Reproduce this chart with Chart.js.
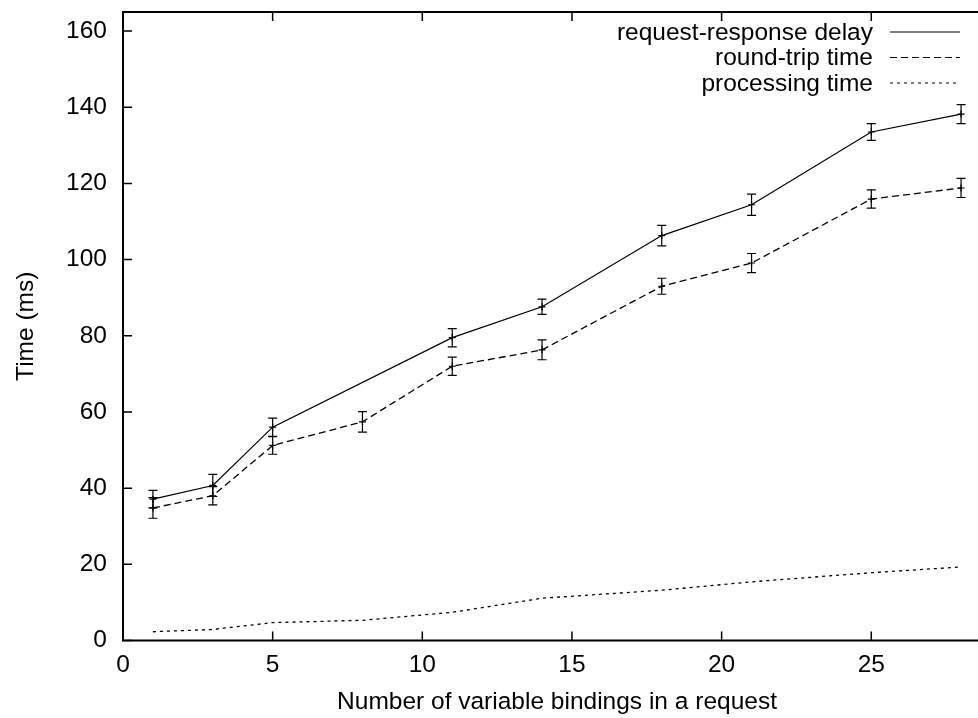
<!DOCTYPE html>
<html>
<head>
<meta charset="utf-8">
<script src="https://cdn.jsdelivr.net/npm/chart.js@4.4.1/dist/chart.umd.min.js"></script>
<style>
  html, body { margin: 0; padding: 0; background: #fff; overflow: hidden; }
  canvas { display: block; }
</style>
</head>
<body>
<canvas id="chart" width="1000" height="718"></canvas>
<script>
// ---- data ----
const bindings = [1, 3, 5, 8, 11, 14, 18, 21, 25, 28];

// request-response delay (no sample at 8 bindings)
const delayMean = [37.1, 40.7, 56.0, null, 79.5, 87.6, 106.3, 114.4, 133.5, 138.2];
const delayErr  = [2.3, 2.9, 2.4, null, 2.4, 2.0, 2.7, 2.8, 2.2, 2.5];

// round-trip time
const rttMean = [34.8, 38.0, 51.2, 57.4, 72.0, 76.3, 93.0, 99.1, 115.9, 118.8];
const rttErr  = [2.7, 2.4, 2.3, 2.7, 2.4, 2.6, 2.1, 2.5, 2.4, 2.5];

// processing time
const procMean = [2.3, 2.9, 4.7, 5.3, 7.4, 11.1, 13.2, 15.4, 17.8, 19.3];

const seriesLabels = ['request-response delay', 'round-trip time', 'processing time'];
const xTicks = [0, 5, 10, 15, 20, 25];
const yTicks = [0, 20, 40, 60, 80, 100, 120, 140, 160];

const FONT = { family: "'Liberation Sans', Arial, Helvetica, sans-serif", size: 24.5 };
const INK = '#000';

function toPoints(ys) {
  return bindings.map((x, i) => ({ x: x, y: ys[i] }));
}

// frame, inward mirrored ticks, error bars and gnuplot-style key
const gnuplotLook = {
  id: 'gnuplotLook',
  afterDatasetsDraw(chart) {
    const { ctx, scales: { x, y } } = chart;
    ctx.save();
    ctx.strokeStyle = INK;
    ctx.lineWidth = 1.2;
    ctx.setLineDash([]);
    chart.data.datasets.forEach(ds => {
      if (!ds.errors) return;
      ds.data.forEach((p, i) => {
        const e = ds.errors[i];
        if (p.y == null || e == null) return;
        const px = x.getPixelForValue(p.x);
        const top = y.getPixelForValue(p.y + e);
        const bot = y.getPixelForValue(p.y - e);
        ctx.beginPath();
        ctx.moveTo(px, top); ctx.lineTo(px, bot);
        ctx.moveTo(px - 4.5, top); ctx.lineTo(px + 4.5, top);
        ctx.moveTo(px - 4.5, bot); ctx.lineTo(px + 4.5, bot);
        ctx.stroke();
      });
    });
    ctx.restore();
  },
  afterDraw(chart) {
    const { ctx, chartArea: a, scales: { x, y } } = chart;
    ctx.save();
    ctx.strokeStyle = INK;
    ctx.lineWidth = 2;
    ctx.setLineDash([]);
    ctx.strokeRect(a.left, a.top, a.right - a.left, a.bottom - a.top);

    const tl = 9;
    ctx.lineWidth = 1.5;
    ctx.beginPath();
    xTicks.forEach(v => {
      const px = x.getPixelForValue(v);
      ctx.moveTo(px, a.bottom); ctx.lineTo(px, a.bottom - tl);
      ctx.moveTo(px, a.top); ctx.lineTo(px, a.top + tl);
    });
    yTicks.forEach(v => {
      const py = y.getPixelForValue(v);
      ctx.moveTo(a.left, py); ctx.lineTo(a.left + tl, py);
      ctx.moveTo(a.right, py); ctx.lineTo(a.right - tl, py);
    });
    ctx.stroke();

    // key, top right
    ctx.font = `${FONT.size}px ${FONT.family}`;
    ctx.fillStyle = INK;
    ctx.textAlign = 'right';
    ctx.textBaseline = 'middle';
    ctx.lineWidth = 1.2;
    chart.data.datasets.forEach((ds, i) => {
      const ky = 32 + i * 25.5;
      ctx.fillText(ds.label, 873, ky + 1);
      ctx.setLineDash(ds.borderDash || []);
      ctx.beginPath();
      ctx.moveTo(890, ky); ctx.lineTo(960, ky);
      ctx.stroke();
    });
    ctx.restore();
  }
};

new Chart(document.getElementById('chart'), {
  type: 'line',
  data: {
    datasets: [
      {
        label: seriesLabels[0],
        data: toPoints(delayMean),
        errors: delayErr,
        borderColor: INK,
        borderWidth: 1.2,
        spanGaps: true,
        pointStyle: 'cross',
        pointRadius: 3.5,
        pointBorderWidth: 1.2,
        pointBorderColor: INK,
      },
      {
        label: seriesLabels[1],
        data: toPoints(rttMean),
        errors: rttErr,
        borderColor: INK,
        borderWidth: 1.3,
        borderDash: [7, 4],
        pointStyle: 'cross',
        pointRadius: 3.5,
        pointBorderWidth: 1.2,
        pointBorderColor: INK,
      },
      {
        label: seriesLabels[2],
        data: toPoints(procMean),
        borderColor: INK,
        borderWidth: 1.3,
        borderDash: [3, 4],
        pointRadius: 0,
      },
    ]
  },
  options: {
    responsive: false,
    animation: false,
    events: [],
    layout: { padding: { top: 12, right: 9, bottom: 0, left: 0 } },
    plugins: { legend: { display: false }, tooltip: { enabled: false } },
    elements: { line: { tension: 0 } },
    scales: {
      x: {
        type: 'linear',
        min: 0, max: 29,
        afterBuildTicks: s => { s.ticks = xTicks.map(v => ({ value: v })); },
        afterFit: s => { s.height = 77.5; s.paddingLeft = 0; s.paddingRight = 0; },
        grid: { display: false, drawTicks: false },
        border: { display: false },
        ticks: { color: INK, font: FONT, padding: 10, maxRotation: 0 },
        title: {
          display: true,
          text: 'Number of variable bindings in a request',
          color: INK, font: FONT,
          padding: { top: 0, bottom: 1 },
        },
      },
      y: {
        min: 0, max: 165,
        afterBuildTicks: s => { s.ticks = yTicks.map(v => ({ value: v })); },
        afterFit: s => { s.width = 123; s.paddingTop = 0; s.paddingBottom = 0; },
        grid: { display: false, drawTicks: false },
        border: { display: false },
        ticks: { color: INK, font: FONT, padding: 16 },
        title: {
          display: true,
          text: 'Time (ms)',
          color: INK, font: FONT,
          padding: { top: 12, bottom: 0 },
        },
      },
    },
  },
  plugins: [gnuplotLook],
});
</script>
</body>
</html>
